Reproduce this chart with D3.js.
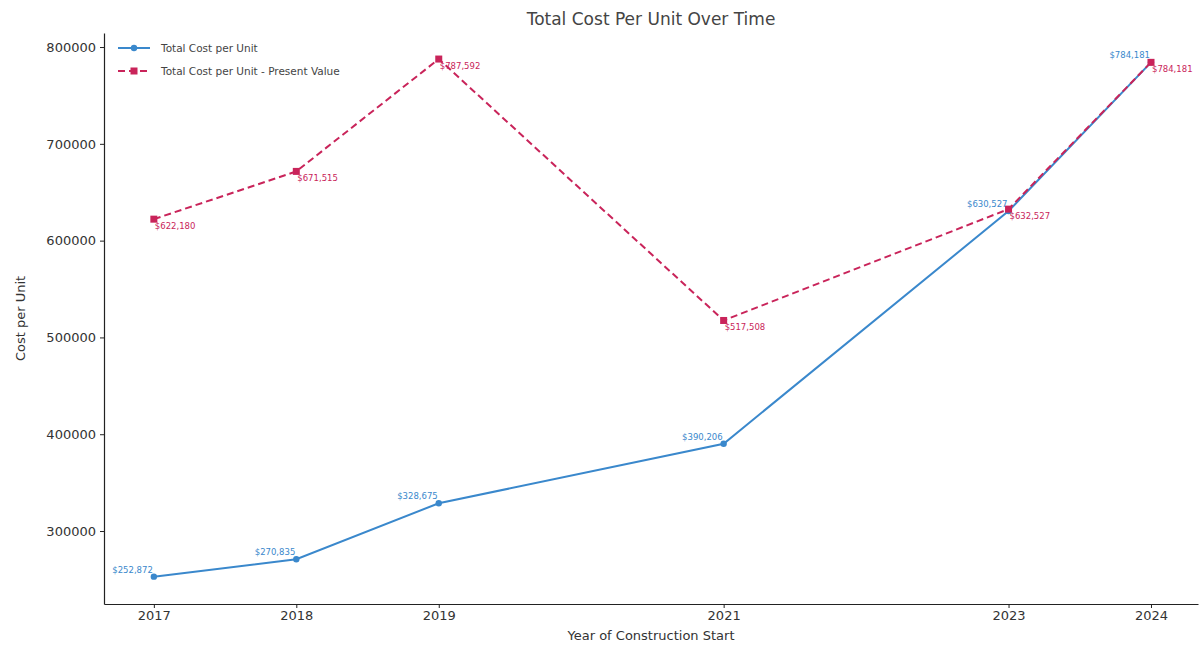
<!DOCTYPE html>
<html>
<head>
<meta charset="utf-8">
<script src="https://cdn.jsdelivr.net/npm/d3@7"></script>
<style>
  html, body { margin: 0; padding: 0; background: #fff; }
  svg { display: block; font-family: "DejaVu Sans", sans-serif; }
</style>
</head>
<body>
<svg id="chart" width="1202" height="646"></svg>
<script>
// Construction start years and unit costs
const years = [2017, 2018, 2019, 2021, 2023, 2024];
const costPerUnit = [252872, 270835, 328675, 390206, 630527, 784181];
const costPerUnitPV = [622180, 671515, 787592, 517508, 632527, 784181];
const yTicks = [300000, 400000, 500000, 600000, 700000, 800000];
const seriesNames = ["Total Cost per Unit", "Total Cost per Unit - Present Value"];

const W = 1202, H = 646;
const margin = { left: 104, right: 4, top: 33, bottom: 42 };
const blue = "#3a88cc";
const red = "#c9245a";

const svg = d3.select("#chart");

const x = d3.scaleLinear()
  .domain([2016.65, 2024.33])
  .range([margin.left, W - margin.right]);

const y = d3.scaleLinear()
  .domain([224600, 814500])
  .range([H - margin.bottom, margin.top]);

const fmt = v => "$" + d3.format(",")(v);

// Axes
const xAxis = svg.append("g")
  .attr("transform", `translate(0,${H - margin.bottom})`)
  .call(d3.axisBottom(x).tickValues(years).tickFormat(d3.format("d"))
    .tickSizeInner(4).tickSizeOuter(0).tickPadding(3));
const yAxis = svg.append("g")
  .attr("transform", `translate(${margin.left},0)`)
  .call(d3.axisLeft(y).tickValues(yTicks).tickFormat(d3.format("d"))
    .tickSizeInner(4).tickSizeOuter(0).tickPadding(4));

[xAxis, yAxis].forEach(g => {
  g.selectAll("text").attr("font-size", 13).attr("fill", "#333").attr("font-family", "DejaVu Sans, sans-serif");
  g.select(".domain").attr("stroke", "#222").attr("stroke-width", 1.2);
  g.selectAll(".tick line").attr("stroke", "#222");
});

// Series lines
const bluePts = years.map((yr, i) => [yr, costPerUnit[i]]);
const redPts = years.map((yr, i) => [yr, costPerUnitPV[i]]);
const line = d3.line().x(d => x(d[0])).y(d => y(d[1]));

svg.append("path")
  .datum(bluePts)
  .attr("d", line)
  .attr("fill", "none")
  .attr("stroke", blue)
  .attr("stroke-width", 2);

svg.append("path")
  .datum(redPts)
  .attr("d", line)
  .attr("fill", "none")
  .attr("stroke", red)
  .attr("stroke-width", 2)
  .attr("stroke-dasharray", "7,4");

// Markers
svg.append("g").selectAll("circle")
  .data(bluePts).join("circle")
  .attr("cx", d => x(d[0])).attr("cy", d => y(d[1]))
  .attr("r", 3.2).attr("fill", blue);

svg.append("g").selectAll("rect")
  .data(redPts).join("rect")
  .attr("x", d => x(d[0]) - 3.5).attr("y", d => y(d[1]) - 3.5)
  .attr("width", 7).attr("height", 7).attr("fill", red);

// Value labels
svg.append("g").selectAll("text")
  .data(bluePts).join("text")
  .attr("x", d => x(d[0]) - 1).attr("y", d => y(d[1]) - 4)
  .attr("text-anchor", "end")
  .attr("font-size", 8.5)
  .attr("fill", blue)
  .text(d => fmt(d[1]));

svg.append("g").selectAll("text")
  .data(redPts).join("text")
  .attr("x", d => x(d[0]) + 1).attr("y", d => y(d[1]) + 10)
  .attr("text-anchor", "start")
  .attr("font-size", 8.5)
  .attr("fill", red)
  .text(d => fmt(d[1]));

// Title and axis labels
svg.append("text")
  .attr("x", 651).attr("y", 25)
  .attr("text-anchor", "middle")
  .attr("font-size", 17)
  .attr("fill", "#444")
  .text("Total Cost Per Unit Over Time");

svg.append("text")
  .attr("x", 651).attr("y", 640)
  .attr("text-anchor", "middle")
  .attr("font-size", 13)
  .attr("fill", "#333")
  .text("Year of Construction Start");

svg.append("text")
  .attr("transform", `translate(25,${(margin.top + H - margin.bottom) / 2}) rotate(-90)`)
  .attr("text-anchor", "middle")
  .attr("font-size", 13)
  .attr("fill", "#333")
  .text("Cost per Unit");

// Legend
const legend = svg.append("g").attr("transform", "translate(118,48)");
seriesNames.forEach((name, i) => {
  const g = legend.append("g").attr("transform", `translate(0,${i * 23})`);
  const c = i === 0 ? blue : red;
  g.append("line").attr("x1", 0).attr("x2", 32).attr("y1", 0).attr("y2", 0)
    .attr("stroke", c).attr("stroke-width", 2)
    .attr("stroke-dasharray", i === 0 ? null : "7,4");
  if (i === 0) {
    g.append("circle").attr("cx", 16).attr("cy", 0).attr("r", 3.2).attr("fill", c);
  } else {
    g.append("rect").attr("x", 12.5).attr("y", -3.5).attr("width", 7).attr("height", 7).attr("fill", c);
  }
  g.append("text").attr("x", 43).attr("y", 4)
    .attr("font-size", 10.5).attr("fill", "#444").text(name);
});
</script>
</body>
</html>
